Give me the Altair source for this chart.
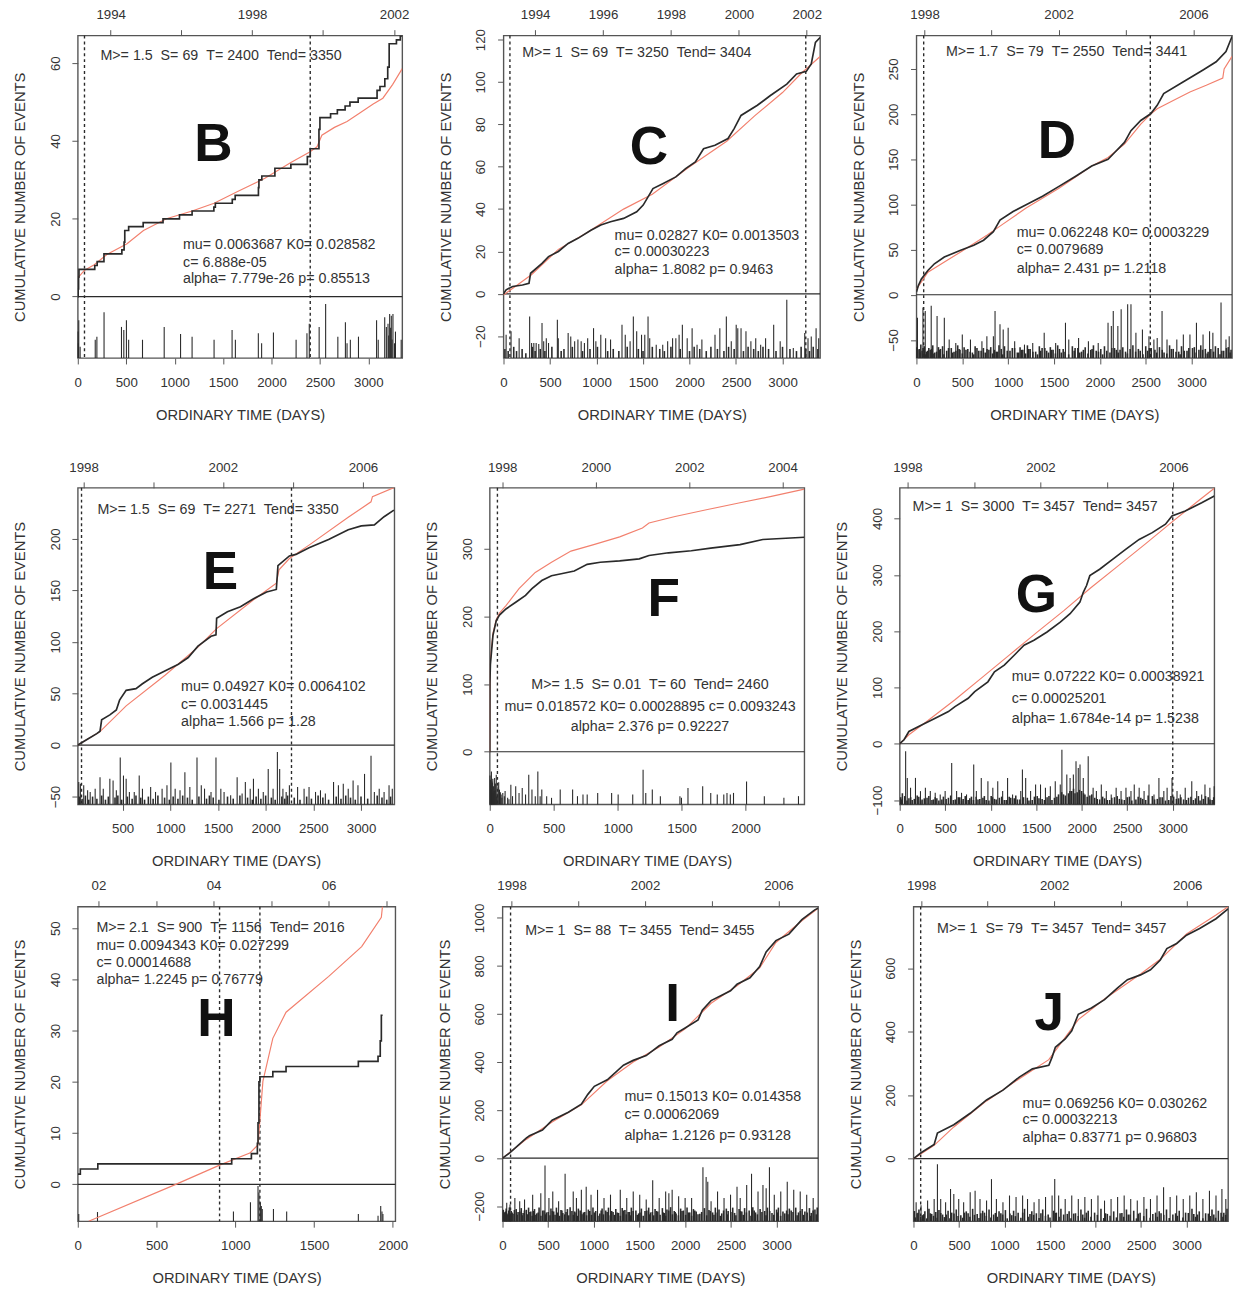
import altair as alt
import pandas as pd

FONT = "Liberation Sans"
INK = "#2a2a2a"
TXT = "#333333"
BOX = "#555555"
RED = "#f2806e"
SP2 = " \u00a0"

# ---------------- Panel B ----------------
B_black = [(0,0),(4,2),(8,5),(12,7),(175,8),(200,9),(270,11),(455,12),(478,14),(485,17),(525,18),(675,19),(880,20),
           (1050,21),(1180,22),(1405,23),(1420,24),(1595,25),(1625,26),(1865,28),(1870,30),(1900,31),(2035,33),(2200,34),
           (2370,36),(2400,38),(2490,43),(2500,46),(2610,47),(2680,48),(2760,49),(2810,50),(2895,51),(3090,53),(3120,54),
           (3170,56),(3200,59),(3215,65),(3290,66),(3330,67),(3350,67)]
B_red = [(0,4.8),(70,6.8),(170,8.2),(300,10.8),(508,13.6),(678,17),(915,20),(1180,22),(1407,24),(1650,27),(1932,30.4),
         (2200,34.5),(2390,37.1),(2470,38.5),(2520,41.5),(2650,43.5),(2780,45),(2900,47),(3050,49.5),(3150,51),(3250,54.5),(3350,58.6)]
B_spikes = [(3,-9),(6,-12),(10,-6.1),(24,-12.9),(180,-11.1),(197,-10.3),(271,-4.0),(451,-7.8),(475,-8.6),(502,-6.1),(525,-11.1),
            (668,-11.1),(892,-7.8),(1061,-9.6),(1180,-10.3),(1407,-11.1),(1593,-8.6),(1627,-11.1),(1864,-9.4),(1898,-12.0),
            (2020,-9.2),(2254,-11.1),(2366,-9.4),(2390,-7.0),(2492,-7.8),(2559,-1.9),(2685,-10.3),(2763,-6.6),(2780,-12.0),
            (2814,-11.1),(2898,-10.3),(3085,-6.1),(3102,-11.1),(3169,-5.3),(3186,-7.8),(3203,-7.0),(3210,-10),(3220,-4.5),
            (3230,-8),(3237,-4.9),(3245,-11),(3254,-4.5),(3270,-12),(3280,-9),(3339,-11.1)]
B_vlines = [69, 2400]
B_years = [(339,'1994'),(1068,''),(1800,'1998'),(2528,''),(3265,'2002')]
B_text = [f"M>= 1.5{SP2}S= 69{SP2}T= 2400{SP2}Tend= 3350", "mu= 0.0063687 K0= 0.028582", "c= 6.888e-05", "alpha= 7.779e-26 p= 0.85513"]

# ---------------- Panel C ----------------
C_black = [(0,0),(28,1.9),(98,3.5),(204,4.2),(274,5),(291,9.7),(414,14.4),(484,17.6),(590,20),(695,23.8),(800,26.2),(940,30),
           (1046,32.5),(1151,34),(1291,35.6),(1432,38.7),(1502,41.9),(1607,49.7),(1712,52),(1853,55.2),(1958,59.1),(2063,62.3),
           (2151,68.5),(2274,70.1),(2414,73.3),(2480,78),(2554,84.2),(2730,89),(2870,93.6),(3046,99),(3151,103.8),(3256,105),
           (3309,108.5),(3354,118.7),(3404,121)]
C_red = [(0,-0.5),(300,9),(590,21),(900,29),(1291,40),(1600,47),(2000,60),(2400,72),(2700,84),(3000,95),(3200,104),(3404,112)]
C_spikes = [(28,-19.3),(81,-17.7),(168,-20.9),(281,-10.7),(302,-23.2),(326,-23.2),(351,-23.2),(379,-23.7),(414,-13.8),(432,-22.4),
            (460,-20.9),(484,-23.2),(579,-12.2),(589,-20.9),(695,-18.5),(723,-20.1),(765,-22.4),(800,-21.6),(835,-22.4),(870,-23.2),
            (905,-20.9),(968,-16.2),(993,-22.4),(1046,-19.3),(1098,-20.9),(1151,-21.6),(1274,-14.6),(1309,-19.3),(1361,-22.4),
            (1396,-10.7),(1432,-17.7),(1484,-19.3),(1519,-19.3),(1554,-10.7),(1572,-20.9),(1642,-24.0),(1712,-24.0),(1765,-22.4),
            (1818,-20.9),(1853,-20.9),(1888,-19.3),(1923,-14.6),(1975,-20.9),(2028,-16.2),(2081,-24.0),(2133,-21.6),(2274,-19.3),
            (2326,-16.2),(2396,-10.7),(2449,-22.4),(2502,-14.6),(2519,-16.2),(2554,-16.2),(2607,-17.7),(2660,-22.4),(2712,-20.9),
            (2765,-24.0),(2818,-20.9),(2905,-14.6),(2975,-22.4),(3046,-2.8),(3116,-25.6),(3239,-18.5),(3274,-20.9),(3309,-20.1),
            (3361,-16.2),(3389,-20.9)]
C_grass = [(15,-26),(50,-27),(110,-25),(140,-27),(200,-26),(240,-28),(310,-25),(340,-27),(395,-26),(445,-27),(520,-25),(620,-27),
           (650,-26),(740,-25),(850,-27),(930,-26),(1010,-25),(1120,-27),(1180,-26),(1240,-27),(1330,-25),(1450,-26),(1500,-27),
           (1600,-25),(1680,-26),(1730,-27),(1800,-25),(1900,-26),(2000,-27),(2050,-25),(2110,-26),(2180,-27),(2230,-25),(2300,-26),
           (2370,-27),(2420,-25),(2480,-26),(2580,-27),(2630,-25),(2690,-26),(2740,-27),(2790,-25),(2850,-26),(2930,-27),(3000,-25),
           (3080,-26),(3150,-27),(3200,-25),(3250,-26),(3290,-27),(3330,-25),(3380,-26)]
C_vlines = [69, 3250]
C_years = [(340,'1994'),(1070,'1996'),(1800,'1998'),(2531,'2000'),(3261,'2002')]
C_text = [f"M>= 1{SP2}S= 69{SP2}T= 3250{SP2}Tend= 3404", "mu= 0.02827 K0= 0.0013503", "c= 0.00030223", "alpha= 1.8082 p= 0.9463"]

# ---------------- Panel D ----------------
D_black = [(0,3),(20,10),(54,17.5),(125,26.9),(196,34.3),(304,41.8),(482,49.3),(625,54.9),(732,60.4),(839,69.8),(911,82.8),
           (1054,92.2),(1196,99.6),(1375,109),(1554,120),(1732,131),(1911,142.5),(2089,150),(2161,157.5),(2268,168.7),(2339,181.7),
           (2446,193),(2554,200.4),(2625,209.7),(2696,222.8),(2911,235.8),(3125,248.9),(3268,258),(3375,269.4),(3441,286)]
D_red = [(0,6.3),(125,25),(482,47.4),(768,66),(911,76),(1196,96),(1554,118),(1911,142.5),(2089,152),(2268,166.8),(2446,189),
         (2554,200),(2625,206),(2800,215),(2982,224.6),(3160,232),(3340,240),(3355,250),(3441,264)]
D_spikes = [(11,-25.4),(71,-14.2),(96,-17.9),(161,-12.3),(225,-23.5),(304,-25.4),(357,-49.6),(429,-53.4),(500,-44),(589,-49.6),
            (714,-51.5),(768,-45.9),(839,-45.9),(857,-17.9),(911,-32.8),(946,-38.4),(1000,-36.6),(1071,-51.5),(1178,-55.2),
            (1268,-53.4),(1393,-42.2),(1518,-53.4),(1625,-31),(1661,-49.6),(1768,-47.8),(1875,-51.5),(1982,-53.4),(2089,-31),
            (2125,-34.7),(2146,-17.9),(2196,-34.7),(2232,-16),(2303,-10.4),(2339,-10.4),(2393,-42.2),(2464,-38.4),(2535,-45.9),
            (2589,-49.6),(2625,-47.8),(2678,-17.9),(2732,-49.6),(2839,-49.6),(2910,-44),(2982,-44),(3053,-31),(3125,-44),
            (3196,-40.3),(3232,-42.2),(3321,-8.6),(3375,-49.6),(3410,-45.9)]
D_grass = [(5,-58),(30,-60),(48,-55),(62,-62),(85,-57),(110,-63),(135,-59),(150,-61),(178,-56),(200,-64),(240,-58),(262,-60),
           (285,-57),(330,-62),(380,-59),(410,-63),(450,-56),(475,-61),(520,-58),(560,-60),(610,-64),(640,-57),(680,-62),(730,-59),
           (790,-61),(810,-58),(870,-63),(900,-56),(925,-60),(960,-57),(1020,-62),(1045,-59),(1100,-64),(1130,-58),(1160,-61),
           (1210,-56),(1240,-60),(1300,-63),(1340,-57),(1370,-59),(1420,-62),(1460,-58),(1490,-61),(1540,-56),(1580,-64),(1600,-60),
           (1700,-57),(1730,-59),(1800,-63),(1840,-58),(1900,-61),(1930,-56),(1960,-62),(2010,-60),(2050,-57),(2110,-64),(2160,-59),
           (2180,-61),(2250,-58),(2280,-63),(2360,-56),(2420,-60),(2440,-62),(2500,-57),(2560,-59),(2600,-61),(2650,-58),(2700,-64),
           (2760,-56),(2800,-60),(2860,-63),(2890,-57),(2950,-62),(3010,-59),(3030,-58),(3080,-61),(3100,-56),(3150,-60),(3180,-63),
           (3260,-57),(3290,-59),(3350,-62),(3400,-58),(3430,-61)]
D_grass2 = [(15,-61),(40,-64),(72,-59),(98,-66),(122,-62),(165,-60),(190,-65),(220,-63),(250,-61),(300,-66),(350,-59),(395,-64),
            (430,-62),(465,-60),(500,-65),(540,-61),(585,-63),(625,-66),(660,-59),(705,-62),(750,-64),(770,-60),(830,-65),(850,-61),
            (885,-63),(940,-66),(990,-62),(1070,-59),(1115,-64),(1145,-61),(1190,-65),(1225,-60),(1270,-63),(1320,-66),(1355,-62),
            (1400,-59),(1440,-64),(1475,-61),(1515,-65),(1560,-60),(1620,-63),(1660,-66),(1720,-62),(1760,-59),(1780,-64),(1820,-61),
            (1870,-65),(1915,-60),(1985,-63),(2030,-66),(2075,-62),(2130,-59),(2200,-64),(2220,-61),(2300,-65),(2330,-60),(2390,-63),
            (2470,-66),(2520,-62),(2540,-59),(2620,-64),(2680,-61),(2730,-65),(2780,-60),(2830,-63),(2875,-66),(2920,-62),(2970,-59),
            (3050,-64),(3120,-61),(3170,-65),(3210,-60),(3240,-63),(3310,-66),(3330,-62),(3380,-59),(3420,-64)]
D_vlines = [79, 2550]
D_years = [(89,'1998'),(820,''),(1550,'2002'),(2285,''),(3020,'2006')]
D_text = [f"M>= 1.7{SP2}S= 79{SP2}T= 2550{SP2}Tend= 3441", "mu= 0.062248 K0= 0.0003229", "c= 0.0079689", "alpha= 2.431 p= 1.2118"]

# ---------------- Panel E ----------------
E_black = [(30,0),(126,5.4),(229,11.1),(263,13.4),(280,24.5),(366,29.3),(434,34),(468,43.6),(537,53.1),(640,54.7),(708,59.5),
           (811,65.8),(948,72.2),(1085,78.5),(1188,84.9),(1290,96),(1427,105.6),(1479,107),(1486,123),(1599,129.4),(1736,134.2),
           (1873,142),(2010,148.5),(2112,151),(2129,174),(2249,183.5),(2318,185),(2455,191.4),(2660,199.4),(2866,209),(3003,212.7),
           (3140,213.7),(3242,221.6),(3345,228)]
E_red = [(30,0),(263,13),(537,38),(948,68),(1290,95),(1486,113),(1873,141),(2112,157),(2140,170),(2249,181),(2455,194),
         (2866,221),(3105,236),(3120,241),(3350,250)]
E_spikes = [(40,-35.9),(57,-37.5),(92,-39.1),(133,-43.9),(160,-45.5),(212,-42.3),(263,-31.2),(297,-42.3),(366,-32.8),(400,-34.3),
            (434,-43.9),(475,-12.1),(509,-29.6),(537,-32.8),(571,-45.5),(622,-45.5),(674,-29.6),(708,-42.3),(794,-40.7),(845,-45.5),
            (914,-42.3),(965,-39.1),(1006,-16.9),(1051,-42.3),(1102,-43.9),(1153,-26.4),(1205,-40.7),(1280,-12.1),(1325,-39.1),
            (1359,-42.3),(1427,-45.5),(1479,-12.1),(1530,-42.3),(1564,-45.5),(1633,-48.6),(1701,-31.2),(1753,-47.1),(1787,-35.9),
            (1838,-42.3),(1872,-32.8),(1924,-42.3),(1975,-45.5),(2027,-23.2),(2078,-42.3),(2123,-6.7),(2147,-23.2),(2181,-42.3),
            (2215,-45.5),(2249,-39.1),(2335,-40.7),(2403,-42.3),(2455,-40.7),(2523,-45.5),(2575,-43.9),(2626,-47.1),(2712,-35.9),
            (2763,-39.1),(2814,-37.5),(2866,-42.3),(2917,-34.3),(2968,-39.1),(3037,-28.0),(3105,-10.5),(3140,-45.5),(3191,-42.3),
            (3242,-45.5),(3294,-39.1),(3328,-42.3)]
E_grass = [(45,-50),(75,-52),(110,-49),(145,-53),(185,-50),(230,-52),(280,-49),(320,-53),(350,-50),(420,-51),(450,-49),(490,-53),
           (550,-50),(600,-52),(640,-49),(690,-51),(730,-53),(770,-50),(820,-52),(870,-49),(940,-51),(990,-53),(1030,-50),(1080,-52),
           (1130,-49),(1180,-51),(1230,-53),(1300,-50),(1380,-52),(1410,-49),(1450,-51),(1510,-53),(1600,-50),(1660,-52),(1730,-49),
           (1810,-51),(1860,-53),(1900,-50),(1950,-52),(2000,-49),(2060,-51),(2100,-53),(2170,-50),(2200,-52),(2230,-49),(2300,-51),
           (2360,-53),(2430,-50),(2480,-52),(2550,-49),(2600,-51),(2660,-53),(2740,-50),(2790,-52),(2840,-49),(2890,-51),(2940,-53),
           (3000,-50),(3070,-52),(3170,-49),(3220,-51),(3270,-53),(3310,-50)]
E_vlines = [69, 2271]
E_years = [(90,'1998'),(821,''),(1551,'2002'),(2285,''),(3020,'2006')]
E_text = [f"M>= 1.5{SP2}S= 69{SP2}T= 2271{SP2}Tend= 3350", "mu= 0.04927 K0= 0.0064102", "c= 0.0031445", "alpha= 1.566 p= 1.28"]

# ---------------- Panel F ----------------
F_black = [(0,0),(1,100),(5,129),(25,172),(51,194),(76,202),(127,211),(203,221),(280,231),(330,241),(407,253),(483,260),(559,263),
           (661,267),(762,277),(864,280),(1016,282),(1169,285),(1245,290),(1398,294),(1576,297),(1728,301),(1957,306),(2135,313.6),(2460,317)]
F_red = [(0,0),(1,100),(5,135),(25,175),(51,195),(76,205),(127,216),(229,241),(356,265),(483,280),(635,296.5),(813,306),
         (1016,317.5),(1194,330.6),(1245,338),(1449,347.6),(1703,358),(1957,368),(2211,377.7),(2460,388)]
F_spikes = [(5,-41.3),(13,-29.2),(20,-46.2),(30,-51),(38,-38.9),(51,-34),(64,-51),(76,-55.9),(89,-63.2),(102,-60.8),(114,-65.6),
            (140,-68.1),(165,-48.6),(178,-65.6),(203,-51),(229,-60.8),(254,-53.5),(280,-63.2),(305,-34),(330,-55.9),(356,-65.6),
            (376,-29.2),(394,-65.6),(407,-55.9),(445,-65.6),(483,-68.1),(551,-55.9),(648,-55.9),(686,-65.6),(729,-63.2),(762,-63.2),
            (844,-60.8),(953,-60.8),(1004,-63.2),(1118,-63.2),(1199,-26.7),(1220,-60.8),(1271,-55.9),(1334,-65.6),(1487,-65.6),
            (1499,-68.1),(1550,-53.5),(1665,-51),(1728,-60.8),(1779,-63.2),(1830,-63.2),(1855,-60.8),(1881,-63.2),(1906,-60.8),
            (2008,-43.8),(2147,-65.6),(2300,-68.1),(2414,-65.6),(8,-50),(16,-60),(24,-40),(34,-58),(44,-47),(58,-62),(70,-45),
            (2,-35),(11,-55),(18,-44),(27,-62),(42,-57),(55,-66),(83,-60),(95,-68),(120,-58),(150,-70)]
F_vlines = [60]
F_years = [(97,'1998'),(829,'2000'),(1560,'2002'),(2290,'2004')]
F_text = [f"M>= 1.5{SP2}S= 0.01{SP2}T= 60{SP2}Tend= 2460", "mu= 0.018572 K0= 0.00028895 c= 0.0093243", "alpha= 2.376 p= 0.92227"]

# ---------------- Panel G ----------------
G_black = [(0,0),(47,7),(101,21.8),(246,33.6),(390,45.3),(535,57.1),(607,66),(752,80.7),(824,92.5),(969,110),(1041,127.8),
           (1149,139.6),(1258,157.2),(1366,175),(1475,183.7),(1619,198.5),(1764,216),(1872,230.9),(1980,251.5),(2017,269),
           (2053,281),(2089,298.6),(2197,310),(2342,328),(2486,345.7),(2631,363),(2775,375),(2920,390),(2992,404.6),(3137,413.4),
           (3318,428),(3457,440)]
G_red = [(0,0),(101,16),(300,40),(607,78),(900,117),(1200,157),(1500,197),(1800,236),(2100,277),(2400,316),(2700,355),
         (3000,395),(3300,434),(3457,454)]
G_spikes = [(65,-13.5),(83,-60.7),(119,-78.3),(173,-60.7),(228,-84.2),(282,-78.3),(336,-84.2),(390,-87.2),(445,-90.1),(499,-84.2),
            (571,-34.2),(625,-84.2),(679,-87.2),(734,-90.1),(813,-37.1),(842,-84.2),(896,-60.7),(969,-66.5),(1023,-78.3),(1077,-66.5),
            (1131,-84.2),(1185,-60.7),(1240,-90.1),(1330,-84.2),(1348,-45.9),(1384,-60.7),(1438,-84.2),(1493,-72.4),(1547,-72.4),
            (1601,-78.3),(1655,-75.4),(1709,-66.5),(1764,-72.4),(1782,-10.6),(1836,-54.8),(1872,-60.7),(1908,-54.8),(1937,-31.2),
            (1962,-43),(1981,-37.1),(2017,-60.7),(2071,-22.4),(2125,-78.3),(2161,-84.2),(2215,-72.4),(2270,-84.2),(2324,-90.1),
            (2378,-78.3),(2432,-84.2),(2486,-78.3),(2541,-84.2),(2577,-72.4),(2631,-78.3),(2685,-84.2),(2739,-72.4),(2794,-90.1),
            (2848,-60.7),(2902,-84.2),(2938,-78.3),(2992,-60.7),(3047,-84.2),(3083,-90.1),(3137,-78.3),(3209,-66.5),(3263,-84.2),
            (3318,-90.1),(3354,-72.4),(3408,-78.3),(3455,-75.4)]
G_grass = [(11,-95),(29,-88),(101,-97),(137,-100),(192,-92),(246,-99),(300,-96),(354,-100),(408,-97),(463,-99),(535,-96),(589,-100),
           (643,-95),(697,-98),(752,-100),(788,-94),(860,-99),(914,-96),(950,-100),(1005,-93),(1041,-98),(1095,-96),(1149,-100),
           (1203,-94),(1258,-97),(1294,-99),(1402,-96),(1456,-100),(1511,-93),(1565,-98),(1619,-95),(1673,-100),(1727,-94),(1800,-90),
           (1854,-88),(1890,-84),(1926,-88),(1999,-84),(2035,-90),(2089,-92),(2143,-96),(2197,-99),(2252,-97),(2306,-100),(2360,-95),
           (2414,-98),(2468,-100),(2523,-94),(2595,-99),(2649,-96),(2703,-100),(2776,-93),(2830,-98),(2884,-95),(2956,-100),(3010,-94),
           (3065,-97),(3119,-99),(3173,-96),(3227,-100),(3282,-93),(3336,-98),(3390,-95),(3433,-100)]
G_grass2 = [(20,-99),(55,-93),(80,-101),(120,-95),(160,-98),(210,-94),(230,-101),(270,-97),(320,-93),(370,-99),(390,-95),(430,-101),
            (480,-94),(510,-98),(560,-92),(610,-99),(660,-95),(680,-101),(720,-93),(770,-97),(810,-100),(840,-94),(880,-98),(930,-93),
            (980,-101),(1020,-95),(1060,-99),(1120,-94),(1170,-100),(1220,-96),(1275,-92),(1320,-99),(1360,-95),(1420,-101),
            (1480,-94),(1530,-97),(1590,-100),(1640,-93),(1700,-96),(1745,-90),(1780,-86),(1820,-92),(1870,-84),(1910,-80),(1950,-86),
            (1975,-82),(2020,-88),(2060,-94),(2110,-90),(2170,-98),(2230,-94),(2280,-100),(2330,-96),(2390,-93),(2440,-99),(2500,-95),
            (2550,-101),(2620,-94),(2670,-98),(2730,-92),(2800,-99),(2860,-95),(2920,-101),(2980,-93),(3040,-98),(3090,-95),(3150,-100),
            (3200,-94),(3250,-97),(3300,-101),(3360,-93),(3410,-99),(3450,-95)]
G_vlines = [3000]
G_years = [(85,'1998'),(816,''),(1546,'2002'),(2277,''),(3007,'2006')]
G_text = [f"M>= 1{SP2}S= 3000{SP2}T= 3457{SP2}Tend= 3457", "mu= 0.07222 K0= 0.00038921", "c= 0.00025201", "alpha= 1.6784e-14 p= 1.5238"]

# ---------------- Panel H ----------------
H_black = [(0,2),(16,3),(127,4),(977,5),(1102,6),(1140,8),(1144,12),(1150,20),(1156,21),(1238,22),(1322,23),(1781,24),
           (1906,25),(1920,28),(1927,33),(1935,33)]
H_red = [(69,-7.2),(622,0),(904,3.8),(1092,6.1),(1144,7.7),(1175,20.1),(1238,28.5),(1322,33.6),(1593,40.6),(1802,46.4),
         (1927,52.1),(1940,56)]
H_spikes = [(6,-5.8),(125,-5.4),(988,-5.3),(1096,-3.5),(1144,-0.3),(1150,-1.6),(1159,-3.5),(1165,-4.2),(1171,-4.8),(1242,-4.8),
            (1326,-5.3),(1781,-5.8),(1906,-6.1),(1923,-4.2),(1931,-5.3),(1937,-5.8)]
H_vlines = [900, 1156]
H_years = [(131,'02'),(497,''),(862,'04'),(1227,''),(1592,'06'),(1958,'')]
H_text = [f"M>= 2.1{SP2}S= 900{SP2}T= 1156{SP2}Tend= 2016", "mu= 0.0094343 K0= 0.027299", "c= 0.00014688", "alpha= 1.2245 p= 0.76779"]

# ---------------- Panel I ----------------
I_black = [(0,0),(82,23),(259,83.6),(295,93),(437,117),(543,157.7),(721,191),(863,225),(934,265.5),(1005,299),(1147,326),
           (1324,386.8),(1431,407),(1573,427),(1715,467.6),(1857,494.6),(1910,521.6),(1999,541.8),(2141,575.5),(2187,616),
           (2283,656),(2389,676.5),(2496,696.8),(2567,723.7),(2709,750.7),(2815,797.8),(2886,858.5),(2993,905.7),(3135,932.6),
           (3277,993),(3418,1033.7),(3455,1040)]
I_red = [(0,0),(259,78),(543,150),(863,222),(1147,322),(1431,400),(1715,463),(1999,538),(2283,645),(2567,718),(2815,792),
         (2993,898),(3277,988),(3455,1040)]
I_spikes = [(46,-186),(82,-193),(135,-166),(188,-179),(241,-172),(330,-152),(419,-146),(465,-31),(508,-166),(550,-139),(614,-179),
            (685,-65),(774,-139),(809,-166),(863,-132),(916,-119),(969,-152),(1040,-132),(1111,-166),(1182,-152),(1289,-132),
            (1360,-166),(1431,-139),(1502,-152),(1573,-172),(1644,-92),(1715,-166),(1786,-139),(1821,-146),(1857,-132),(1928,-159),
            (1999,-166),(2070,-166),(2194,-38),(2229,-78),(2247,-98),(2283,-179),(2354,-139),(2425,-166),(2496,-152),(2567,-119),
            (2602,-166),(2673,-112),(2726,-65),(2797,-139),(2851,-112),(2886,-125),(2922,-38),(2975,-152),(3046,-139),(3117,-98),
            (3188,-132),(3259,-139),(3330,-152),(3401,-166)]
I_grass = [(8,-215),(25,-225),(40,-210),(60,-230),(75,-205),(95,-220),(115,-232),(150,-212),(170,-224),(205,-208),(225,-228),
           (260,-215),(285,-206),(310,-222),(350,-212),(375,-230),(400,-205),(440,-218),(480,-226),(530,-210),(560,-222),(590,-206),
           (640,-216),(660,-228),(710,-212),(740,-204),(790,-222),(830,-210),(885,-226),(940,-214),(990,-206),(1020,-220),(1065,-230),
           (1090,-210),(1130,-218),(1160,-206),(1210,-224),(1240,-212),(1270,-228),(1310,-208),(1340,-216),(1390,-224),(1410,-206),
           (1460,-218),(1490,-230),(1520,-210),(1560,-220),(1600,-206),(1620,-226),(1670,-212),(1700,-222),(1750,-208),(1770,-228),
           (1800,-214),(1840,-204),(1880,-220),(1900,-230),(1950,-210),(1980,-218),(2020,-206),(2050,-226),(2090,-212),(2120,-222),
           (2160,-232),(2210,-208),(2260,-216),(2300,-226),(2330,-206),(2370,-214),(2400,-230),(2450,-210),(2470,-220),(2520,-206),
           (2540,-228),(2590,-212),(2620,-222),(2650,-208),(2700,-218),(2740,-204),(2770,-226),(2820,-212),(2870,-220),(2900,-206),
           (2950,-228),(3000,-214),(3020,-206),(3070,-222),(3090,-230),(3140,-210),(3160,-218),(3210,-206),(3240,-226),(3280,-212),
           (3310,-222),(3360,-208),(3380,-228),(3420,-214),(3445,-206)]
I_grass2 = [(15,-238),(33,-222),(50,-236),(68,-218),(85,-240),(105,-226),(130,-216),(160,-236),(190,-222),(215,-238),(240,-218),
            (270,-234),(300,-224),(325,-240),(340,-220),(365,-236),(390,-226),(420,-240),(455,-218),(470,-234),(500,-224),(520,-238),
            (545,-220),(575,-236),(605,-226),(625,-240),(650,-218),(680,-234),(695,-224),(725,-238),(760,-220),(775,-236),(805,-226),
            (820,-240),(850,-218),(870,-234),(900,-224),(920,-238),(955,-220),(975,-236),(1005,-226),(1045,-240),(1080,-218),
            (1105,-234),(1145,-224),(1180,-238),(1195,-220),(1225,-236),(1255,-226),(1290,-240),(1325,-218),(1355,-234),(1375,-224),
            (1400,-238),(1430,-220),(1475,-236),(1505,-226),(1540,-240),(1580,-218),(1610,-234),(1640,-224),(1655,-238),(1685,-220),
            (1725,-236),(1760,-226),(1785,-240),(1820,-218),(1860,-234),(1890,-224),(1925,-238),(1965,-220),(2005,-236),(2035,-226),
            (2070,-240),(2105,-218),(2140,-234),(2180,-224),(2235,-238),(2275,-220),(2315,-236),(2350,-226),(2385,-240),(2420,-218),
            (2460,-234),(2500,-224),(2555,-238),(2605,-220),(2635,-236),(2670,-226),(2720,-240),(2755,-218),(2790,-234),(2840,-224),
            (2885,-238),(2925,-220),(2970,-236),(3010,-226),(3045,-240),(3110,-218),(3125,-234),(3180,-224),(3225,-238),(3260,-220),
            (3295,-236),(3335,-226),(3370,-240),(3400,-218),(3435,-234)]
I_vlines = [88]
I_years = [(99,'1998'),(829,''),(1560,'2002'),(2290,''),(3021,'2006')]
I_text = [f"M>= 1{SP2}S= 88{SP2}T= 3455{SP2}Tend= 3455", "mu= 0.15013 K0= 0.014358", "c= 0.00062069", "alpha= 1.2126 p= 0.93128"]

# ---------------- Panel J ----------------
J_black = [(0,0),(83,18.7),(227,44.6),(263,81),(443,107),(623,143),(803,185),(983,216),(1163,257),(1307,283),(1487,294),
           (1523,320),(1559,351),(1667,377),(1739,403),(1811,455),(1955,475),(2099,501),(2243,538),(2351,564),(2495,579),
           (2604,595),(2712,626),(2784,662),(2892,678),(3000,704),(3144,725),(3324,756),(3457,787)]
J_red = [(0,0),(227,42),(443,100),(803,182),(1163,252),(1487,312),(1811,438),(2099,503),(2495,582),(2712,628),(3000,708),
         (3324,768),(3457,794)]
J_spikes = [(29,-137),(83,-147),(155,-132),(227,-127),(263,-17.6),(299,-127),(353,-137),(407,-95.5),(443,-111),(497,-127),
            (551,-137),(623,-106),(677,-101),(731,-127),(803,-132),(857,-64.4),(911,-127),(983,-137),(1055,-116),(1127,-121),
            (1199,-116),(1253,-127),(1325,-137),(1379,-127),(1451,-121),(1523,-116),(1552,-64.4),(1595,-116),(1667,-127),
            (1739,-116),(1811,-127),(1883,-121),(1955,-127),(2027,-116),(2099,-132),(2171,-127),(2243,-121),(2315,-116),
            (2387,-127),(2459,-132),(2532,-121),(2604,-127),(2676,-116),(2748,-90),(2820,-121),(2892,-116),(2964,-127),
            (3036,-116),(3108,-106),(3180,-127),(3252,-101),(3324,-116),(3389,-95.5),(3432,-127)]
J_grass = [(10,-165),(40,-172),(60,-160),(100,-178),(125,-166),(170,-158),(200,-174),(245,-168),(280,-162),(320,-176),(380,-164),
           (420,-170),(470,-160),(520,-178),(580,-166),(600,-172),(650,-158),(700,-174),(760,-164),(780,-170),(830,-160),(880,-176),
           (940,-166),(960,-172),(1010,-162),(1080,-178),(1100,-164),(1150,-170),(1220,-158),(1280,-174),(1300,-166),(1350,-172),
           (1420,-160),(1480,-176),(1540,-164),(1570,-170),(1620,-158),(1690,-174),(1710,-166),(1780,-172),(1840,-160),(1860,-176),
           (1920,-164),(1990,-170),(2060,-158),(2130,-174),(2200,-166),(2270,-172),(2340,-160),(2360,-176),(2420,-164),(2490,-170),
           (2560,-158),(2630,-174),(2700,-166),(2720,-172),(2780,-160),(2850,-176),(2920,-164),(2990,-170),(3060,-158),(3080,-174),
           (3140,-166),(3210,-172),(3280,-160),(3300,-176),(3350,-164),(3410,-170),(3445,-158)]
J_grass2 = [(20,-185),(50,-170),(80,-182),(112,-175),(145,-188),(185,-172),(220,-180),(260,-186),(300,-171),(340,-184),(360,-176),
            (400,-188),(445,-173),(490,-181),(540,-186),(560,-170),(620,-183),(670,-177),(720,-187),(740,-172),(800,-180),(850,-185),
            (900,-171),(920,-183),(980,-176),(1030,-188),(1060,-173),(1120,-181),(1180,-186),(1200,-170),(1260,-183),(1320,-177),
            (1380,-187),(1400,-172),(1450,-180),(1500,-185),(1560,-171),(1600,-183),(1650,-176),(1730,-188),(1760,-173),(1810,-181),
            (1880,-186),(1900,-170),(1950,-183),(2020,-177),(2090,-187),(2110,-172),(2160,-180),(2230,-185),(2290,-171),(2310,-183),
            (2380,-176),(2450,-188),(2470,-173),(2530,-181),(2600,-186),(2660,-170),(2680,-183),(2750,-177),(2810,-187),(2880,-172),
            (2900,-180),(2960,-185),(3020,-171),(3100,-183),(3120,-176),(3180,-188),(3240,-173),(3260,-181),(3320,-186),(3380,-170),
            (3400,-183),(3430,-177)]
J_vlines = [79]
J_years = [(85,'1998'),(815,''),(1546,'2002'),(2276,''),(3007,'2006')]
J_text = [f"M>= 1{SP2}S= 79{SP2}T= 3457{SP2}Tend= 3457", "mu= 0.069256 K0= 0.030262", "c= 0.00032213", "alpha= 0.83771 p= 0.96803"]

T500 = [0, 500, 1000, 1500, 2000, 2500, 3000]

PANELS = {
    'B': dict(w=330, h=328, xdom=[0, 3350], ydom=[-15.8, 67.1], yticks=[0, 20, 40, 60], xticks=T500, interp='step-after',
              black=B_black, red=B_red, spikes=B_spikes, grass=[], vlines=B_vlines, years=B_years, text=B_text,
              hdr=(23, 21), par=(107, [213, 231, 248]), letter=(138, 112)),
    'C': dict(w=322, h=328, xdom=[0, 3404], ydom=[-30.3, 121.9], yticks=[-20, 0, 20, 40, 60, 80, 100, 120], xticks=T500,
              interp='linear', black=C_black, red=C_red, spikes=C_spikes, grass=C_grass, vlines=C_vlines, years=C_years,
              text=C_text, hdr=(19, 18), par=(113, [204, 220, 238]), letter=(148, 115)),
    'D': dict(w=321, h=328, xdom=[0, 3441], ydom=[-70.1, 287], yticks=[-50, 0, 50, 100, 150, 200, 250], xticks=T500,
              interp='linear', black=D_black, red=D_red, spikes=D_spikes, grass=D_grass + D_grass2, vlines=D_vlines,
              years=D_years, text=D_text, hdr=(30, 17), par=(102, [201, 218, 237]), letter=(143, 109)),
    'E': dict(w=322, h=322, xdom=[30, 3350], ydom=[-57.6, 249.6], yticks=[-50, 0, 50, 100, 150, 200], xticks=T500[1:],
              interp='linear', black=E_black, red=E_red, spikes=E_spikes, grass=E_grass, vlines=E_vlines, years=E_years,
              text=E_text, hdr=(20, 23), par=(105, [203, 221, 238]), letter=(145, 87)),
    'F': dict(w=320, h=322, xdom=[0, 2460], ydom=[-77.8, 390], yticks=[0, 100, 200, 300], xticks=T500[:5],
              interp='linear', black=F_black, red=F_red, spikes=F_spikes, grass=[], vlines=F_vlines, years=F_years,
              text=F_text, hdr=None, par=(163, [201, 223, 243]), letter=(177, 114)),
    'G': dict(w=320, h=322, xdom=[0, 3457], ydom=[-107.8, 454.6], yticks=[-100, 0, 100, 200, 300, 400], xticks=T500,
              interp='linear', black=G_black, red=G_red, spikes=G_spikes, grass=G_grass + G_grass2, vlines=G_vlines,
              years=G_years, text=G_text, hdr=(13, 20), par=(114, [192, 215, 235]), letter=(139, 110)),
    'H': dict(w=323, h=320, xdom=[0, 2016], ydom=[-7.2, 54.2], yticks=[0, 10, 20, 30, 40, 50], xticks=T500[:5],
              interp='step-after', black=H_black, red=H_red, spikes=H_spikes, grass=[], vlines=H_vlines, years=H_years,
              text=H_text, hdr=None, par=(19, [22, 40, 57, 75]), letter=(141, 116)),
    'I': dict(w=321, h=320, xdom=[0, 3455], ydom=[-262.8, 1047], yticks=[-200, 0, 200, 400, 600, 800, 1000], xticks=T500,
              interp='linear', black=I_black, red=I_red, spikes=I_spikes, grass=I_grass + I_grass2, vlines=I_vlines,
              years=I_years, text=I_text, hdr=(23, 25), par=(124, [194, 212, 233]), letter=(173, 100)),
    'J': dict(w=320, h=320, xdom=[0, 3457], ydom=[-197.2, 794], yticks=[0, 200, 400, 600], xticks=T500,
              interp='linear', black=J_black, red=J_red, spikes=J_spikes, grass=J_grass + J_grass2, vlines=J_vlines,
              years=J_years, text=J_text, hdr=(24, 23), par=(111, [201, 217, 235]), letter=(138, 109)),
}


def text_layer(txt, px, py, size=14.5, weight='normal', color=TXT, align='left'):
    return alt.Chart(pd.DataFrame({'t': [txt]})).mark_text(
        font=FONT, fontSize=size, fontWeight=weight, color=color, align=align, baseline='middle'
    ).encode(x=alt.value(px), y=alt.value(py), text='t:N')


def panel(name):
    P = PANELS[name]
    xs = alt.Scale(domain=P['xdom'], nice=False, zero=False)
    ys = alt.Scale(domain=P['ydom'], nice=False, zero=False)
    yr_vals = [d for d, _ in P['years']]
    expr = " : ".join(f"datum.value == {d} ? '{lab}'" for d, lab in P['years'] if lab) + " : ''"

    bottom_axis = alt.Axis(orient='bottom', values=P['xticks'], format='d', title='ORDINARY TIME (DAYS)',
                           titlePadding=19, labelPadding=12)
    top_axis = alt.Axis(orient='top', values=yr_vals, labelExpr=expr, title=None, labelPadding=8)
    y_axis = alt.Axis(values=P['yticks'], format='d', title='CUMULATIVE NUMBER OF EVENTS', labelAngle=-90,
                      labelAlign='center', labelBaseline='bottom', labelPadding=10, titlePadding=21)

    spikes = alt.Chart(pd.DataFrame(P['spikes'], columns=['day', 'top'])).mark_rule(
        color=INK, strokeWidth=1.1).encode(
        x=alt.X('day:Q', scale=xs, axis=bottom_axis),
        y=alt.Y('top:Q', scale=ys, axis=y_axis),
        y2=alt.value(P['h']))
    layers = [spikes]
    if P['grass']:
        grass = alt.Chart(pd.DataFrame(P['grass'], columns=['day', 'top'])).mark_rule(
            color=INK, strokeWidth=1.6).encode(
            x=alt.X('day:Q', scale=xs, axis=None),
            y=alt.Y('top:Q', scale=ys, axis=y_axis),
            y2=alt.value(P['h']))
        layers.append(grass)
    vlines = alt.Chart(pd.DataFrame({'day': P['vlines']})).mark_rule(
        color=INK, strokeWidth=1.4, strokeDash=[3, 3]).encode(
        x=alt.X('day:Q', scale=xs, axis=top_axis))
    zero = alt.Chart(pd.DataFrame({'v': [0]})).mark_rule(color=INK, strokeWidth=1.2).encode(
        y=alt.Y('v:Q', scale=ys, axis=y_axis))
    red = alt.Chart(pd.DataFrame(P['red'], columns=['day', 'n'])).mark_line(
        color=RED, strokeWidth=1.2, clip=True).encode(
        x=alt.X('day:Q', scale=xs, axis=None), y=alt.Y('n:Q', scale=ys, axis=y_axis))
    black = alt.Chart(pd.DataFrame(P['black'], columns=['day', 'n'])).mark_line(
        color=INK, strokeWidth=1.7, interpolate=P['interp'], clip=True).encode(
        x=alt.X('day:Q', scale=xs, axis=None), y=alt.Y('n:Q', scale=ys, axis=y_axis))
    layers += [vlines, zero, red, black]

    lines = P['text']
    if P['hdr'] is not None:
        layers.append(text_layer(lines[0], P['hdr'][0], P['hdr'][1]))
        for t, yy in zip(lines[1:], P['par'][1]):
            layers.append(text_layer(t, P['par'][0], yy))
    elif name == 'F':
        for t, yy in zip(lines, P['par'][1]):
            layers.append(text_layer(t, P['par'][0], yy, align='center'))
    else:
        for t, yy in zip(lines, P['par'][1]):
            layers.append(text_layer(t, P['par'][0], yy))
    layers.append(text_layer(name, P['letter'][0], P['letter'][1], size=54, weight='bold', color='#111111',
                             align='center'))

    return alt.layer(*layers).resolve_axis(x='independent').properties(width=P['w'], height=P['h'])


row1 = alt.hconcat(panel('B'), panel('C'), panel('D'), spacing=28)
row2 = alt.hconcat(panel('E'), panel('F'), panel('G'), spacing=28)
row3 = alt.hconcat(panel('H'), panel('I'), panel('J'), spacing=28)

chart = alt.vconcat(row1, alt.vconcat(row2, row3, spacing=8), spacing=36).properties(
    padding={"left": 4, "top": -12, "right": 0, "bottom": 0}, background='white'
).configure_view(
    stroke=BOX, strokeWidth=1.4
).configure_axis(
    domain=False, grid=False, labelFont=FONT, labelFontSize=13.5, labelColor=TXT,
    tickColor=BOX, tickSize=6, tickWidth=1, titleFont=FONT, titleFontSize=15,
    titleFontWeight='normal', titleColor=TXT, labelFlush=False, labelOverlap=False
)

chart.save("out.html", embed_options={"renderer": "svg", "actions": False})
